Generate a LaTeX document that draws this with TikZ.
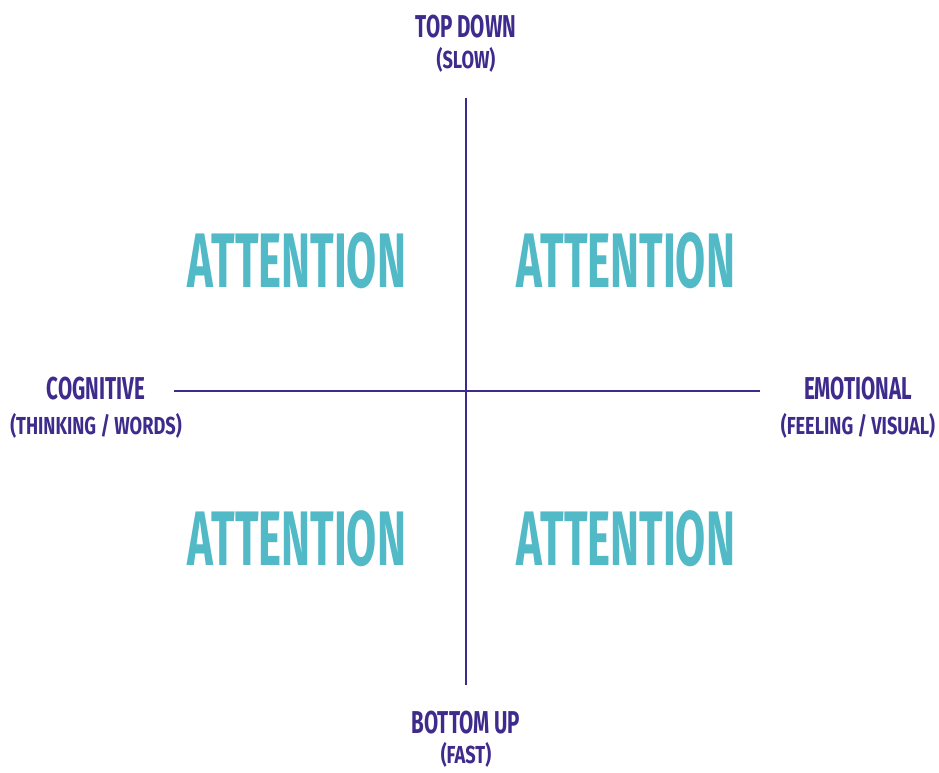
\documentclass[tikz,border=0pt]{standalone}
\usepackage{fontspec}
\newfontfamily\condfont[FakeStretch=0.65]{Fira Sans}
\newfontfamily\notefont[FakeStretch=0.74]{Fira Sans}
\newfontfamily\quadfont[FakeStretch=0.565]{Fira Sans}
\usepackage{tikz}
\usetikzlibrary{calc}

\definecolor{axispurple}{HTML}{3F2B8C}
\definecolor{quadteal}{HTML}{52BAC6}

\begin{document}
\begin{tikzpicture}[x=0.02cm, y=-0.02cm,
    axislabel/.style={font=\condfont\bfseries\fontsize{18}{20}\selectfont, text=axispurple, anchor=base, inner sep=0pt},
    axisnote/.style={font=\notefont\bfseries\fontsize{14}{16}\selectfont, text=axispurple, anchor=base, inner sep=0pt},
    quadword/.style={font=\quadfont\bfseries\fontsize{44}{48}\selectfont, text=quadteal, anchor=base, inner sep=0pt}]

\useasboundingbox (0,0) rectangle (939,772);

% --- AXES ---
\coordinate (Ytop) at (466,98);
\coordinate (Ybot) at (466,685);
\coordinate (Xl)   at (174,391);
\coordinate (Xr)   at (760,391);

\draw[axispurple, line width=1.2pt] (Ytop) -- (Ybot);
\draw[axispurple, line width=1.2pt] (Xl) -- (Xr);

% --- AXIS LABELS ---
\node[axislabel] (top)    at (466,37)  {TOP DOWN};
\node[axisnote]  (topn)   at (466,68)  {(SLOW)};
\node[axislabel] (bot)    at (466,733) {BOTTOM UP};
\node[axisnote]  (botn)   at (466,763) {(FAST)};
\node[axislabel] (left)   at (96,399)  {COGNITIVE};
\node[axisnote]  (leftn)  at (96,434)  {(THINKING / WORDS)};
\node[axislabel] (right)  at (858,399) {EMOTIONAL};
\node[axisnote]  (rightn) at (858,434) {(FEELING / VISUAL)};

% --- QUADRANTS ---
\node[quadword] (q1) at (297,287) {ATTENTION};
\node[quadword] (q2) at (626,287) {ATTENTION};
\node[quadword] (q3) at (297,565) {ATTENTION};
\node[quadword] (q4) at (626,565) {ATTENTION};

\end{tikzpicture}
\end{document}
